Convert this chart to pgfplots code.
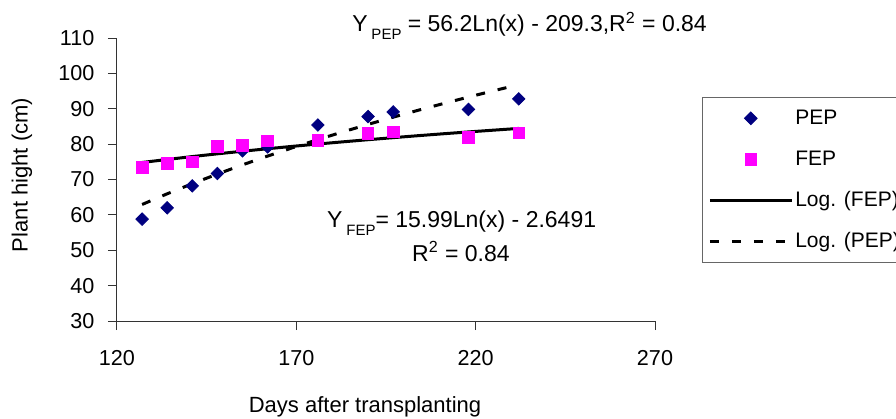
\documentclass[border=0pt]{standalone}
\usepackage{fontspec}
\setmainfont{Liberation Sans}
\usepackage{pgfplots}
\pgfplotsset{compat=1.18}
\definecolor{pepblue}{RGB}{0,0,128}
\definecolor{fepmag}{RGB}{255,0,255}
\newcommand{\sub}[1]{\,\raisebox{-0.6ex}{\fontsize{7.5bp}{8bp}\selectfont #1}}
\begin{document}
\fontsize{10.8bp}{13bp}\selectfont
\begin{tikzpicture}
\useasboundingbox (-58.5bp,-49bp) rectangle (389.5bp,160.5bp);
\clip (-58.5bp,-49bp) rectangle (389.5bp,160.5bp);
\begin{axis}[
  at={(0,0)}, anchor=south west,
  scale only axis,
  width=269bp, height=141.5bp,
  xmin=120, xmax=270, ymin=30, ymax=110,
  xtick={120,170,220,270},
  ytick={30,40,50,60,70,80,90,100,110},
  axis lines*=left,
  axis line style={line width=0.5bp, black!80},
  tick align=outside,
  major tick length=4.5bp,
  tick style={line width=0.5bp, black!80},
  /pgf/number format/assume math mode=true,
  xticklabel style={yshift=-6.5bp},
  yticklabel style={xshift=-3bp},
  xlabel={Days after transplanting},
  ylabel={Plant hight (cm)},
  label style={font=\fontsize{11bp}{13bp}\selectfont},
  xlabel style={at={(axis description cs:0.461,-0.304)}, anchor=center},
  ylabel style={at={(axis description cs:-0.1766,0.516)}, anchor=center, rotate=0},
  clip=false,
  legend style={at={(axis description cs:1.087,0.792)}, anchor=north west,
    draw=black!60, line width=0.5bp, inner xsep=3bp, inner ysep=5.5bp,
    font=\fontsize{10.5bp}{12bp}\selectfont,
    nodes={inner sep=0pt, text height=8bp, text depth=2bp, anchor=west},
    row sep=10.5bp, column sep=1bp},
  legend cell align=left,
  legend image code/.code={\draw[mark repeat=2,mark phase=2,#1] plot coordinates {(0bp,0bp) (20.5bp,0bp) (41bp,0bp)};},
]
\addplot[only marks, mark=square*, mark size=2.2bp, mark options={rotate=45, fill=pepblue, draw=pepblue}] coordinates {
(127,58.8) (134,62.0) (141,68.2) (148,71.7) (155,78.1) (162,79.2) (176,85.4) (190,87.8) (197,89.1) (218,89.8) (232,92.8)};
\addlegendentry{PEP}
\addplot[only marks, mark=square*, mark size=2.9bp, mark options={fill=fepmag, draw=fepmag}] coordinates {
(127,73.5) (134,74.5) (141,75.0) (148,79.3) (155,79.7) (162,80.9) (176,81.1) (190,83.0) (197,83.5) (218,81.9) (232,83.2)};
\addlegendentry{FEP}
\addplot[black, line width=1.5bp, no marks] coordinates {
(127,74.81) (134,75.67) (141,76.48) (148,77.26) (155,77.99) (162,78.70) (169,79.38) (176,80.03) (183,80.65) (190,81.25) (197,81.83) (204,82.39) (211,82.93) (218,83.45) (225,83.95) (232,84.44)};
\addlegendentry{Log. (FEP)}
\addplot[black, line width=1.5bp, no marks, dash pattern=on 4.5bp off 6.5bp] coordinates {
(127,62.94) (134,65.96) (141,68.82) (148,71.54) (155,74.14) (162,76.62) (169,79.00) (176,81.28) (183,83.47) (190,85.58) (197,87.62) (204,89.58) (211,91.47) (218,93.31) (225,95.09) (232,96.81)};
\addlegendentry{Log. (PEP)}
\node[anchor=base west, inner sep=0pt, font=\fontsize{11.5bp}{13bp}\selectfont] at (axis cs:185.5,111.7) {Y\sub{PEP} = 56.2Ln(x) - 209.3,R\textsuperscript{2} = 0.84};
\node[anchor=base west, inner sep=0pt, font=\fontsize{11.5bp}{13bp}\selectfont] at (axis cs:178.5,56.3) {Y\sub{FEP}= 15.99Ln(x) - 2.6491};
\node[anchor=base, inner sep=0pt, font=\fontsize{11.5bp}{13bp}\selectfont] at (axis cs:215.9,46.8) {R\textsuperscript{2} = 0.84};
\end{axis}
\end{tikzpicture}
\end{document}
